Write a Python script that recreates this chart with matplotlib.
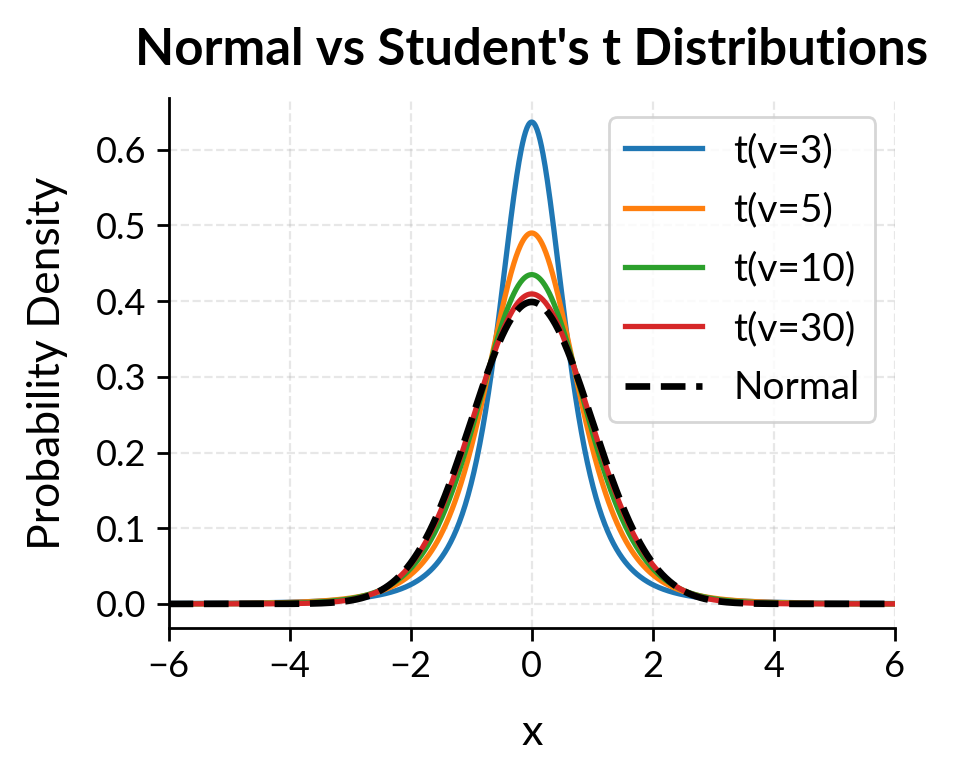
import math

import numpy as np
import matplotlib
matplotlib.use('Agg')
from matplotlib import pyplot as plt
from matplotlib.ticker import MultipleLocator

# degrees of freedom of the (unit variance) Student's t curves
dofs = [3, 5, 10, 30]
labels = ['t(v=3)', 't(v=5)', 't(v=10)', 't(v=30)']
colors = ['#1f77b4', '#ff7f0e', '#2ca02c', '#d62728']
x_min, x_max = -6, 6


def t_pdf(x, v):
    # student t rescaled so the variance is 1
    s = math.sqrt((v - 2) / v)
    z = x / s
    c = math.gamma((v + 1) / 2) / (math.sqrt(v * math.pi) * math.gamma(v / 2))
    return c * (1 + z ** 2 / v) ** (-(v + 1) / 2) / s


def normal_pdf(x):
    return np.exp(-x ** 2 / 2) / math.sqrt(2 * math.pi)


plt.rcParams['font.family'] = ['Lato', 'DejaVu Sans']

fig = plt.figure(figsize=(4.79, 3.92), dpi=200)
ax = fig.add_subplot(111)
fig.subplots_adjust(left=0.176, right=0.934, top=0.875, bottom=0.199)

x = np.linspace(x_min, x_max, 1000)
for v, lab, col in zip(dofs, labels, colors):
    ax.plot(x, t_pdf(x, v), color=col, lw=1.9, label=lab)
ax.plot(x, normal_pdf(x), color='black', lw=2.4, ls='--', label='Normal')

ax.set_xlim(x_min, x_max)
ax.yaxis.set_major_locator(MultipleLocator(0.1))
ax.set_title("Normal vs Student's t Distributions", fontsize=18.3,
             fontweight='bold', pad=12)
ax.set_xlabel('x', fontsize=15.5, labelpad=11)
ax.set_ylabel('Probability Density', fontsize=16, labelpad=10)
ax.tick_params(labelsize=13, length=4.5, width=1.0)
ax.grid(True, ls='--', alpha=0.3)
ax.spines['top'].set_visible(False)
ax.spines['right'].set_visible(False)
ax.spines['left'].set_linewidth(1.0)
ax.spines['bottom'].set_linewidth(1.0)
ax.legend(fontsize=14, loc='upper right', labelspacing=0.6)

plt.savefig('out.png', dpi=200)
